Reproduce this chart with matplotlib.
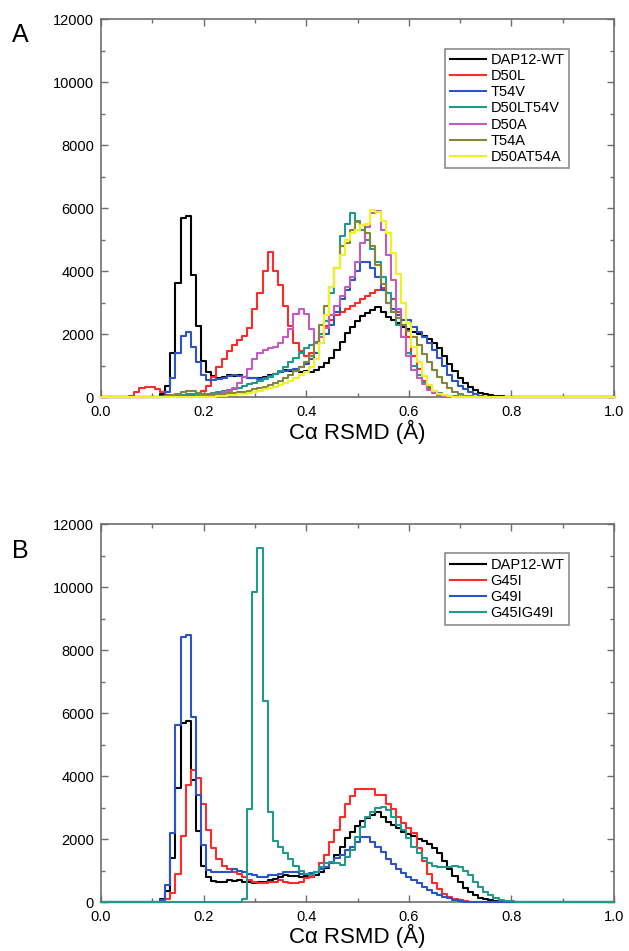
import numpy as np
import matplotlib
matplotlib.use("Agg")
import matplotlib.pyplot as plt
from matplotlib.ticker import MultipleLocator

plt.rcParams['font.family'] = ['Liberation Sans', 'DejaVu Sans']

# bin centres (C-alpha RMSD, Angstrom), bin width 0.01
bin_centres = np.round(np.arange(101) * 0.01, 2)

# ---- Panel A series: (first bin, counts) ----
wt_start = 0.12
wt_counts = [100, 350, 1400, 3620, 5680, 5760, 3880, 2260, 1150, 800, 680, 620, 650, 700, 660,
             700, 650, 620, 600, 620, 650, 700, 720, 780, 850, 830, 820, 800, 820, 800, 850,
             950, 1080, 1250, 1490, 1760, 2020, 2230, 2400, 2560, 2660, 2770, 2870, 2710, 2550,
             2450, 2340, 2230, 2150, 2080, 2000, 1950, 1850, 1720, 1550, 1300, 1050, 820, 620,
             450, 310, 210, 140, 95, 65, 40, 25, 15, 8, 3]

d50l_start = 0.06
d50l_counts = [30, 150, 280, 330, 320, 250, 150, 80, 40, 30, 30, 40, 60, 100, 180, 350, 650, 950,
               1200, 1450, 1650, 1800, 1950, 2200, 2800, 3300, 4000, 4600, 4000, 3550, 2900, 2250,
               1700, 1450, 1300, 1400, 1700, 2000, 2250, 2450, 2600, 2700, 2800, 2900, 3000, 3100,
               3200, 3300, 3400, 3450, 3300, 3100, 2700, 2300, 1900, 1300, 880, 500, 280, 150, 80,
               40, 20, 8]

t54v_start = 0.12
t54v_counts = [30, 150, 600, 1400, 1950, 2050, 1600, 1100, 700, 550, 550, 580, 620, 680, 700, 680,
               650, 600, 600, 580, 620, 680, 720, 780, 820, 850, 880, 950, 1050, 1200, 1400, 1700,
               2000, 2300, 2700, 3100, 3400, 3700, 4000, 4300, 4300, 4100, 3800, 3400, 3000, 2800,
               2600, 2450, 2440, 2230, 2050, 1900, 1700, 1490, 1250, 1000, 700, 500, 360, 260, 160,
               90, 40, 15]

d50lt54v_start = 0.13
d50lt54v_counts = [20, 40, 60, 80, 100, 100, 90, 90, 100, 120, 150, 180, 220, 260, 300, 350, 400,
                   450, 500, 560, 640, 720, 820, 950, 1100, 1250, 1400, 1550, 1650, 1750, 2000,
                   2400, 3300, 4100, 5100, 5500, 5850, 5600, 5300, 5000, 4700, 4300, 3800, 3300,
                   2700, 2300, 1900, 1400, 1000, 700, 480, 320, 200, 120, 70, 40, 20, 8]

d50a_start = 0.19
d50a_counts = [20, 40, 60, 80, 100, 150, 200, 300, 450, 650, 900, 1200, 1400, 1500, 1550, 1600,
               1700, 1900, 2150, 2650, 2800, 2650, 2150, 1700, 1900, 2200, 2600, 2900, 3200, 3500,
               3800, 4300, 4900, 5400, 5850, 5900, 5300, 4500, 3700, 2800, 1900, 1300, 850, 600,
               400, 230, 120, 60, 30, 10]

t54a_start = 0.13
t54a_counts = [30, 60, 100, 150, 200, 180, 130, 100, 90, 90, 100, 110, 120, 130, 150, 170, 200,
               240, 280, 330, 380, 440, 520, 600, 700, 820, 950, 1100, 1300, 1700, 2300, 2900,
               3500, 4100, 4800, 4900, 5300, 5550, 5450, 5200, 4800, 4200, 3600, 3000, 2700, 2500,
               2300, 2100, 1900, 1650, 1380, 1100, 860, 640, 440, 280, 170, 90, 45, 20]

d50at54a_start = 0.22
d50at54a_counts = [10, 20, 30, 50, 70, 90, 110, 140, 170, 200, 240, 280, 330, 390, 450, 520, 600,
                   700, 800, 950, 1200, 1700, 2600, 3500, 4100, 4500, 5000, 5200, 5300, 5450, 5500,
                   5950, 5880, 5600, 5200, 4560, 3900, 2970, 2340, 1600, 1100, 680, 370, 200, 100,
                   50, 20, 8]

# ---- Panel B series ----
g45i_start = 0.13
g45i_counts = [100, 300, 900, 2100, 3700, 4200, 3950, 3100, 2300, 1700, 1350, 1150, 1050, 950, 900,
               800, 700, 650, 600, 600, 650, 650, 700, 650, 600, 600, 650, 750, 800, 950, 1250,
               1500, 1900, 2300, 2700, 3100, 3350, 3600, 3600, 3600, 3600, 3400, 3400, 3100, 2950,
               2700, 2500, 2350, 2200, 1700, 1300, 900, 600, 400, 260, 150, 90, 50, 25, 10]

g49i_start = 0.12
g49i_counts = [60, 540, 2180, 5620, 8420, 8480, 5880, 3400, 1800, 1020, 950, 950, 950, 950, 1050,
               1000, 950, 900, 850, 800, 800, 850, 850, 900, 950, 950, 950, 900, 900, 920, 960,
               1050, 1120, 1230, 1390, 1490, 1650, 1760, 1920, 2050, 2070, 1920, 1760, 1590, 1380,
               1220, 1060, 910, 800, 700, 600, 490, 380, 300, 230, 170, 120, 60, 25, 10]

g45ig49i_start = 0.28
g45ig49i_counts = [100, 2950, 9850, 11230, 6380, 2850, 1950, 1750, 1550, 1350, 1150, 1000, 880,
                   850, 950, 1100, 1230, 1280, 1230, 1170, 1440, 1650, 2070, 2390, 2710, 2870,
                   2980, 3030, 2920, 2710, 2440, 2290, 2020, 1750, 1550, 1400, 1250, 1150, 1100,
                   1120, 1120, 1150, 1100, 1000, 850, 650, 480, 330, 220, 140, 80, 45, 20, 8]

labels_a = ['DAP12-WT', 'D50L', 'T54V', 'D50LT54V', 'D50A', 'T54A', 'D50AT54A']
labels_b = ['DAP12-WT', 'G45I', 'G49I', 'G45IG49I']

colors = {
    'DAP12-WT': '#000000', 'D50L': '#ff2a2a', 'T54V': '#2a55c8', 'D50LT54V': '#1f9a8c',
    'D50A': '#c25cc2', 'T54A': '#86863a', 'D50AT54A': '#f2f21e',
    'G45I': '#ff2a2a', 'G49I': '#2a55c8', 'G45IG49I': '#1f9a8c',
}


def full(start, counts):
    arr = np.zeros(len(bin_centres))
    i0 = int(round(start * 100))
    arr[i0:i0 + len(counts)] = counts
    return arr


series_a = [full(wt_start, wt_counts), full(d50l_start, d50l_counts), full(t54v_start, t54v_counts),
            full(d50lt54v_start, d50lt54v_counts), full(d50a_start, d50a_counts),
            full(t54a_start, t54a_counts), full(d50at54a_start, d50at54a_counts)]
series_b = [full(wt_start, wt_counts), full(g45i_start, g45i_counts), full(g49i_start, g49i_counts),
            full(g45ig49i_start, g45ig49i_counts)]

fig = plt.figure(figsize=(6.29, 9.51), dpi=100)
ax_a = fig.add_axes([0.1606, 0.5825, 0.8156, 0.3975])
ax_b = fig.add_axes([0.1606, 0.0515, 0.8156, 0.3975])

spine_col = '#6e6e6e'


def style(ax):
    ax.set_xlim(0, 1)
    ax.set_ylim(0, 12000)
    ax.xaxis.set_major_locator(MultipleLocator(0.2))
    ax.xaxis.set_minor_locator(MultipleLocator(0.1))
    ax.yaxis.set_major_locator(MultipleLocator(2000))
    ax.yaxis.set_minor_locator(MultipleLocator(1000))
    ax.tick_params(which='both', direction='in', top=True, right=True, color=spine_col,
                   labelsize=10.5, width=1.0)
    ax.tick_params(which='major', length=5)
    ax.tick_params(which='minor', length=3)
    ax.tick_params(axis='x', which='major', pad=6)
    ax.tick_params(axis='y', which='major', pad=5)
    for s in ax.spines.values():
        s.set_color(spine_col)
        s.set_linewidth(1.2)
    ax.xaxis.set_major_formatter(matplotlib.ticker.FormatStrFormatter('%.1f'))
    ax.set_xlabel('Cα RSMD (Å)', fontsize=16, labelpad=0)


for ax, series, labels in [(ax_a, series_a, labels_a), (ax_b, series_b, labels_b)]:
    for vals, lab in zip(series, labels):
        ax.step(bin_centres, vals, where='mid', color=colors[lab], lw=1.5, label=lab,
                zorder=3, clip_on=False)
    style(ax)
    leg = ax.legend(loc='upper right', bbox_to_anchor=(0.912, 0.922), fontsize=10.5,
                    frameon=True, fancybox=False, edgecolor='#8c8c8c', framealpha=1,
                    handlelength=2.5, handletextpad=0.3, labelspacing=0.15, borderpad=0.3,
                    borderaxespad=0)
    leg.get_frame().set_linewidth(1.2)

fig.text(0.032, 0.963, 'A', fontsize=18, ha='center', va='center')
fig.text(0.032, 0.421, 'B', fontsize=18, ha='center', va='center')

fig.savefig('out.png', dpi=100)
